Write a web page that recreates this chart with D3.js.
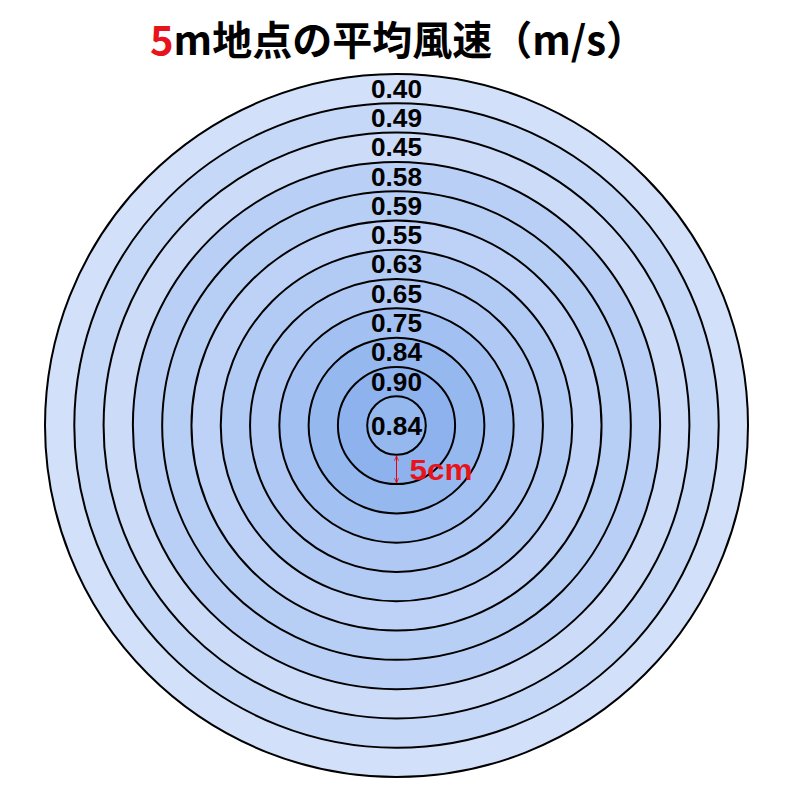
<!DOCTYPE html>
<html><head><meta charset="utf-8">
<script src="https://cdn.jsdelivr.net/npm/d3@7"></script>
<style>html,body{margin:0;padding:0;background:#fff;}</style>
</head><body>
<svg id="chart" width="800" height="800"></svg>
<script>
// Ring values from the outermost ring to the central circle
const ringValues = [0.40, 0.49, 0.45, 0.58, 0.59, 0.55, 0.63, 0.65, 0.75, 0.84, 0.90, 0.84];
const ringStepLabel = "5cm";
const titleRed = "5";
const titleRest = "m地点の平均風速（m/s）";

const svg = d3.select("#chart");
const cx = 396.5, cy = 425.5, outerR = 351.5;
const n = ringValues.length;

// ring index counted from centre (0 = central circle)
const rings = ringValues.map((v, i) => ({value: v, k: n - 1 - i}));

const rScale = d3.scaleLinear().domain([0, n]).range([0, outerR]);
const color = d3.scaleLinear().domain([0.40, 0.90]).range(["#d2e0f9", "#8db2ee"]);

const g = svg.append("g").attr("transform", `translate(${cx},${cy})`);

g.selectAll("circle.ring")
  .data(rings)
  .join("circle")
  .attr("class", "ring")
  .attr("r", d => rScale(d.k + 1))
  .attr("fill", d => color(d.value))
  .attr("stroke", "#000")
  .attr("stroke-width", 2);

g.selectAll("text.val")
  .data(rings)
  .join("text")
  .attr("class", "val")
  .attr("x", 0)
  .attr("y", d => d.k === 0 ? 0 : -rScale(d.k + 0.5))
  .attr("dy", "0.36em")
  .attr("text-anchor", "middle")
  .attr("font-family", "Liberation Sans, Arial, sans-serif")
  .attr("font-weight", "bold")
  .attr("font-size", 25)
  .attr("fill", "#000")
  .attr("textLength", 51)
  .attr("lengthAdjust", "spacingAndGlyphs")
  .text(d => d.value.toFixed(2));

// arrow marker
const defs = svg.append("defs");
["start", "end"].forEach(t => {
  defs.append("marker")
    .attr("id", "arr-" + t)
    .attr("viewBox", "0 0 10 10")
    .attr("refX", t === "end" ? 10 : 0).attr("refY", 5)
    .attr("markerWidth", 5).attr("markerHeight", 5)
    .attr("orient", "auto")
    .append("path")
    .attr("d", t === "end" ? "M0,1 L10,5 L0,9" : "M10,1 L0,5 L10,9")
    .attr("fill", "none").attr("stroke", "#e00").attr("stroke-width", 1.5);
});
g.append("line")
  .attr("x1", 0).attr("x2", 0)
  .attr("y1", rScale(1) + 1).attr("y2", rScale(2) - 1)
  .attr("stroke", "#e00").attr("stroke-width", 1)
  .attr("marker-start", "url(#arr-start)")
  .attr("marker-end", "url(#arr-end)");
g.append("text")
  .attr("x", 13).attr("y", rScale(1.5) + 10.5)
  .attr("font-family", "Liberation Sans, Arial, sans-serif")
  .attr("font-weight", "bold").attr("font-size", 30)
  .attr("fill", "#e8141b")
  .attr("textLength", 63)
  .attr("lengthAdjust", "spacingAndGlyphs")
  .text(ringStepLabel);

// title
const title = svg.append("text")
  .attr("x", 398).attr("y", 55)
  .attr("text-anchor", "middle")
  .attr("font-family", "Noto Sans CJK JP, sans-serif")
  .attr("font-weight", "bold").attr("font-size", 40)
  .attr("fill", "#000");
title.append("tspan").attr("fill", "#e8141b").text(titleRed);
title.append("tspan").text(titleRest);
</script>
</body></html>
